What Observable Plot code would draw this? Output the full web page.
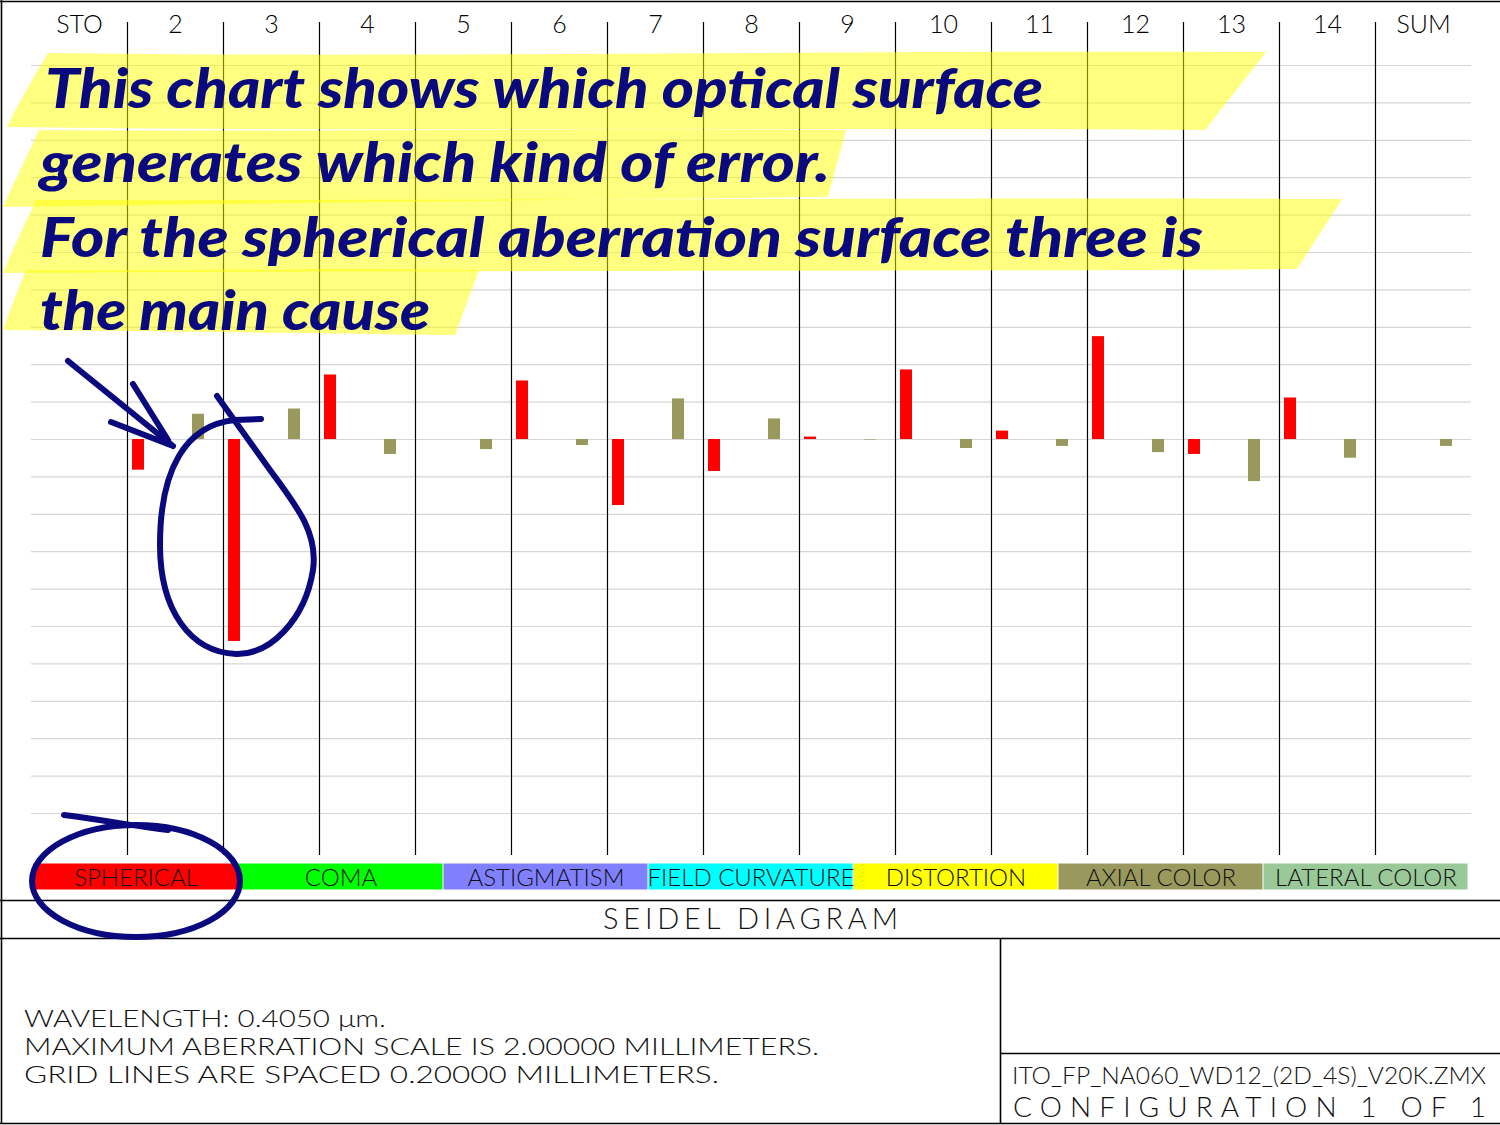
<!DOCTYPE html>
<html>
<head>
<meta charset="utf-8">
<script src="https://cdn.jsdelivr.net/npm/d3@7"></script>
<script src="https://cdn.jsdelivr.net/npm/@observablehq/plot@0.6"></script>
<style>
  html, body { margin: 0; padding: 0; background: #fff; }
  #page { position: relative; width: 1500px; height: 1125px; overflow: hidden; background: #fff; }
  #page > svg { position: absolute; left: 0; overflow: visible; }
  .zmx text { font-family: "Lato", "DejaVu Sans", sans-serif; font-weight: 300; }
  .note text { font-family: "Lato", "DejaVu Sans", sans-serif; font-style: italic; font-weight: 900; }
</style>
</head>
<body>
<div id="page"></div>
<script>
// Surfaces of the lens file, one column each, plus the SUM column
const surfaces = ["STO", "2", "3", "4", "5", "6", "7", "8", "9", "10", "11", "12", "13", "14", "SUM"];

// Seidel aberration types, in bar order within a column
const aberrations = ["SPHERICAL", "COMA", "ASTIGMATISM", "FIELD CURVATURE", "DISTORTION", "AXIAL COLOR", "LATERAL COLOR"];
const aberrationColors = ["#ff0000", "#00ff00", "#8080ff", "#00ffff", "#ffff00", "#99995e", "#99c899"];

// Seidel contributions per surface (millimeters)
const spherical      = [0, -0.164, -1.080, 0.345, 0, 0.313, -0.353, -0.171, 0.013, 0.372, 0.045, 0.550, -0.080, 0.222, 0];
const coma           = [0, 0, 0, 0, 0, 0, 0, 0, 0, 0, 0, 0, 0, 0, 0];
const astigmatism    = [0, 0, 0, 0, 0, 0, 0, 0, 0, 0, 0, 0, 0, 0, 0];
const fieldCurvature = [0, 0, 0, 0, 0, 0, 0, 0, 0, 0, 0, 0, 0, 0, 0];
const distortion     = [0, 0, 0, 0, 0, 0, 0, 0, 0, 0, 0, 0, 0, 0, 0];
const axialColor     = [0, 0.135, 0.163, -0.080, -0.054, -0.032, 0.217, 0.110, -0.003, -0.048, -0.037, -0.070, -0.225, -0.100, -0.037];
const lateralColor   = [0, 0, 0, 0, 0, 0, 0, 0, 0, 0, 0, 0, 0, 0, 0];

// Diagram scale settings
const maxScale = 2.0;
const gridSpacing = 0.2;

// Text blocks
const wavelengthText = "WAVELENGTH: 0.4050 μm.";
const scaleText = "MAXIMUM ABERRATION SCALE IS 2.00000 MILLIMETERS.";
const gridText = "GRID LINES ARE SPACED 0.20000 MILLIMETERS.";
const fileName = "ITO_FP_NA060_WD12_(2D_4S)_V20K.ZMX";
const configText = "CONFIGURATION 1 OF 1";
const diagramTitle = "SEIDEL DIAGRAM";
const noteLines = [
  "This chart shows which optical surface",
  "generates which kind of error.",
  "For the spherical aberration surface three is",
  "the main cause"
];

// ---- build the table of bars
const series = [spherical, coma, astigmatism, fieldCurvature, distortion, axialColor, lateralColor];
const records = surfaces.flatMap((surface, i) =>
  aberrations.map((aberration, slot) => ({surface, aberration, slot, value: series[slot][i]}))
);
const gridValues = d3.range(-Math.round(maxScale / gridSpacing), Math.round(maxScale / gridSpacing) + 1)
  .map(k => k * gridSpacing);

// slot units inside a surface column: 7 bars plus a small gap
const slotStart = -5 / 12;
const slotDomain = [slotStart, aberrations.length + 1 + slotStart];

const page = document.getElementById("page");

const chart = Plot.plot({
  width: 1500,
  height: 900,
  marginLeft: 30,
  marginRight: 29,
  marginTop: 22,
  marginBottom: 45,
  className: "zmx",
  style: {color: "#000", background: "transparent"},
  fx: {domain: surfaces, padding: 0, label: null},
  x: {domain: slotDomain, axis: null},
  y: {domain: [-maxScale, maxScale], range: [813, 65], axis: null},
  color: {domain: aberrations, range: aberrationColors},
  marks: [
    Plot.ruleY(gridValues, {stroke: "#d6d6d6", strokeWidth: 1.2}),
    Plot.ruleX(surfaces.slice(1), {fx: d => d, x: slotStart, stroke: "#000", strokeWidth: 1.2}),
    Plot.rectY(records, {
      fx: "surface",
      x1: "slot",
      x2: d => d.slot + 1,
      y1: 0,
      y2: "value",
      fill: "aberration",
      inset: 0
    }),
    Plot.axisFx({anchor: "top", tickSize: 0, tickPadding: -10, fontSize: 25, label: null})
  ]
});
chart.style.top = "0px";
page.appendChild(chart);

// Colour key row
const key = Plot.plot({
  width: 1500,
  height: 37,
  marginLeft: 30,
  marginRight: 30,
  marginTop: 5,
  marginBottom: 5,
  className: "zmx",
  style: {background: "transparent"},
  x: {domain: aberrations, padding: 0, axis: null},
  color: {domain: aberrations, range: aberrationColors},
  marks: [
    Plot.cell(aberrations, {x: d => d, fill: d => d, inset: 0.5}),
    Plot.text(aberrations, {x: d => d, text: d => d, fontSize: 24, fill: "#111", dy: 1})
  ]
});
key.style.top = "858px";
page.appendChild(key);

// ---- frame, title block and hand-drawn notes
const over = d3.select(page).append("svg")
  .attr("width", 1500).attr("height", 1125)
  .style("top", "0px")
  .attr("class", "zmx");

const frame = over.append("g").attr("stroke", "#000").attr("stroke-width", 1.6).attr("fill", "none");
frame.append("path").attr("d", "M0,1.5H1500 M1.5,0V1123.5 M0,1123.5H1500");
frame.append("path").attr("d", "M0,900.5H1500 M0,938.5H1500 M1000.5,938V1124 M1000,1053.5H1500");

const txt = over.append("g").attr("fill", "#111");
txt.append("text").attr("x", 603).attr("y", 929).attr("font-size", 29)
  .attr("textLength", 295).attr("lengthAdjust", "spacing").text(diagramTitle);
[[wavelengthText, 1027, 362], [scaleText, 1055, 795], [gridText, 1083, 695]].forEach(([t, y, len]) => {
  txt.append("text").attr("x", 24).attr("y", y).attr("font-size", 23)
    .attr("textLength", len).attr("lengthAdjust", "spacingAndGlyphs").text(t);
});
txt.append("text").attr("x", 1012).attr("y", 1084).attr("font-size", 23)
  .attr("textLength", 474).attr("lengthAdjust", "spacingAndGlyphs").text(fileName);
txt.append("text").attr("x", 1013).attr("y", 1117).attr("font-size", 28)
  .attr("textLength", 473).attr("lengthAdjust", "spacing").text(configText);

// highlighter strokes behind the note text
const marker = over.append("g").attr("fill", "#ffff00").attr("fill-opacity", 0.5);
[
  "M48,53 C400,58 900,50 1266,52 L1205,130 C800,127 400,132 7,127 C20,100 35,75 48,53 Z",
  "M39,130 C300,132 600,128 846,130 L828,197 C550,200 250,203 3,207 C15,180 28,155 39,130 Z",
  "M36,200 C450,201 900,197 1342,199 L1297,269 C900,272 400,270 3,273 C12,250 25,225 36,200 Z",
  "M26,270 C180,271 330,268 479,270 L455,335 C300,333 150,331 3,330 C10,310 18,290 26,270 Z"
].forEach(d => marker.append("path").attr("d", d));

const note = over.append("g").attr("class", "note").attr("fill", "#0a0a7e");
[[45, 108, 998], [40, 182, 790], [40, 257, 1163], [40, 330, 390]].forEach(([x, y, len], i) => {
  note.append("text").attr("x", x).attr("y", y).attr("font-size", 56)
    .attr("textLength", len).attr("lengthAdjust", "spacingAndGlyphs").text(noteLines[i]);
});

const pen = over.append("g").attr("fill", "none").attr("stroke", "#0a0a7e")
  .attr("stroke-width", 6).attr("stroke-linecap", "round").attr("stroke-linejoin", "round");
pen.append("path").attr("d", "M68,361 L173,446 M111,422 L173,446 M133,384 L168,440");
pen.append("path").attr("d", "M217,396 L270,470 C300,510 318,535 313,570 C305,620 270,655 236,654 C190,652 160,610 160,545 C160,470 185,425 235,420 L261,419");
pen.append("ellipse").attr("cx", 136).attr("cy", 881).attr("rx", 104).attr("ry", 56);
pen.append("path").attr("d", "M64,815 C110,821 140,827 168,830");
</script>
</body>
</html>
